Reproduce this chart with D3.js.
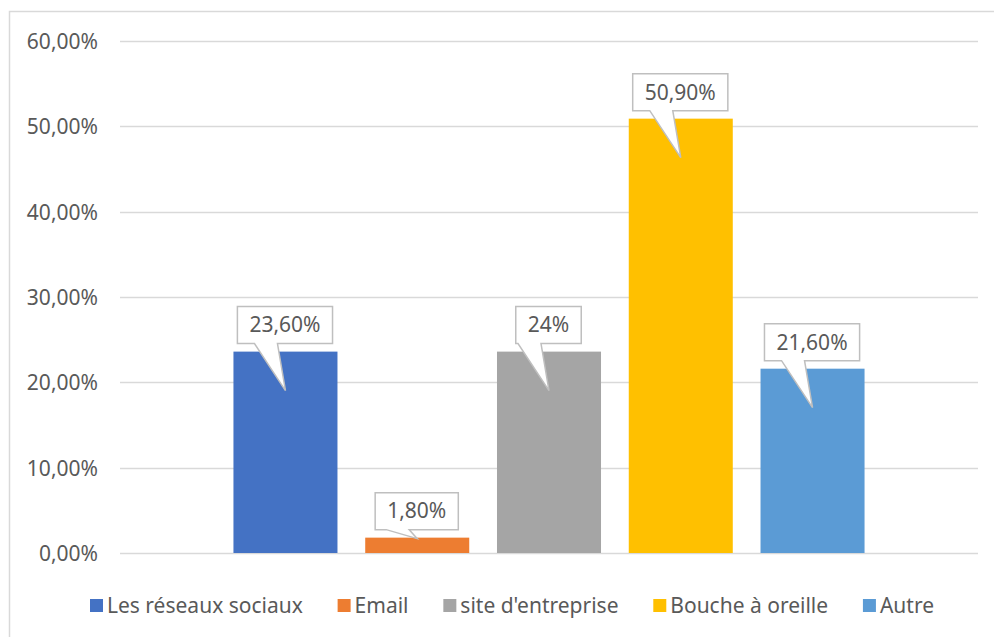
<!DOCTYPE html>
<html><head><meta charset="utf-8">
<script src="https://cdn.jsdelivr.net/npm/d3@7"></script>
<style>html,body{margin:0;padding:0;background:#fff;}svg{display:block;font-family:"Noto Sans",sans-serif;}</style>
</head><body>
<svg id="c" width="994" height="637"></svg>
<script>
const series = ["Les réseaux sociaux", "Email", "site d'entreprise", "Bouche à oreille", "Autre"];
const values = [0.236, 0.018, 0.236, 0.509, 0.216];
const labels = ["23,60%", "1,80%", "24%", "50,90%", "21,60%"];
const colors = ["#4472C4", "#ED7D31", "#A5A5A5", "#FFC000", "#5B9BD5"];
const yTicks = [0, 0.1, 0.2, 0.3, 0.4, 0.5, 0.6];
const yTickLabels = ["0,00%", "10,00%", "20,00%", "30,00%", "40,00%", "50,00%", "60,00%"];

const svg = d3.select("#c");
const textColor = "#595959";
const fs = 21;

// chart area border
svg.append("rect").attr("x", 9.5).attr("y", 11.5).attr("width", 1010).attr("height", 640)
  .attr("fill", "#fff").attr("stroke", "#D9D9D9").attr("stroke-width", 1.5);

const y = d3.scaleLinear().domain([0, 0.6]).range([553, 41]);
const x = d3.scaleBand().domain(series).range([120, 978]).paddingInner(0.2106).paddingOuter(0.861);

// gridlines
svg.append("g").selectAll("line").data(yTicks).join("line")
  .attr("x1", 120).attr("x2", 978)
  .attr("y1", d => Math.round(y(d)) + 0.5).attr("y2", d => Math.round(y(d)) + 0.5)
  .attr("stroke", "#D9D9D9").attr("stroke-width", 1.5);

// y axis labels
const yAxis = d3.axisLeft(y).tickValues(yTicks).tickSize(0).tickPadding(0)
  .tickFormat((d, i) => yTickLabels[i]);
const ga = svg.append("g").attr("transform", "translate(98,0)").call(yAxis);
ga.select(".domain").remove();
ga.selectAll("text").attr("fill", textColor).attr("font-size", fs)
  .attr("font-family", "'Noto Sans', sans-serif").attr("dy", "0.35em");

// bars
svg.append("g").selectAll("rect").data(series).join("rect")
  .attr("x", d => x(d)).attr("width", x.bandwidth())
  .attr("y", (d, i) => y(values[i])).attr("height", (d, i) => y(0) - y(values[i]))
  .attr("fill", (d, i) => colors[i]);

// callouts
const cg = svg.append("g");
series.forEach((s, i) => {
  const cx = x(s) + x.bandwidth() / 2;
  const top = y(values[i]);
  const bh = y(0) - top;
  const t = cg.append("text").attr("font-size", fs).attr("fill", textColor)
    .attr("text-anchor", "middle").text(labels[i]);
  const tw = t.node().getComputedTextLength();
  const w = tw + 24, h = 37;
  const bx = cx - 0.5 - w / 2;
  const by1 = top - 8, by0 = by1 - h;
  const tipY = top + Math.min(39, Math.max(1, bh - 15));
  const p = `M${bx},${by0} H${bx + w} V${by1} H${cx - 8} L${cx},${tipY} L${cx - 31},${by1} H${bx} Z`;
  cg.insert("path", "text").attr("d", p).attr("fill", "#fff").attr("stroke", "#BFBFBF").attr("stroke-width", 1.5);
  t.attr("x", bx + w / 2).attr("y", (by0 + by1) / 2).attr("dy", "0.35em");
});

// legend
const lg = svg.append("g");
const items = series.map((s, i) => {
  const t = lg.append("text").attr("font-size", fs).attr("fill", textColor).text(s);
  return { t, w: t.node().getComputedTextLength() };
});
const sq = 13, gap = 4, L0 = 90, L1 = 934;
const totalItems = d3.sum(items, d => sq + gap + d.w);
const sp = (L1 - L0 - totalItems) / (series.length - 1);
let cxL = L0;
const ly = 605.5;
items.forEach((it, i) => {
  lg.append("rect").attr("x", cxL).attr("y", ly - sq / 2).attr("width", sq).attr("height", sq).attr("fill", colors[i]);
  it.t.attr("x", cxL + sq + gap).attr("y", ly).attr("dy", "0.35em");
  cxL += sq + gap + it.w + sp;
});
</script>
</body></html>
